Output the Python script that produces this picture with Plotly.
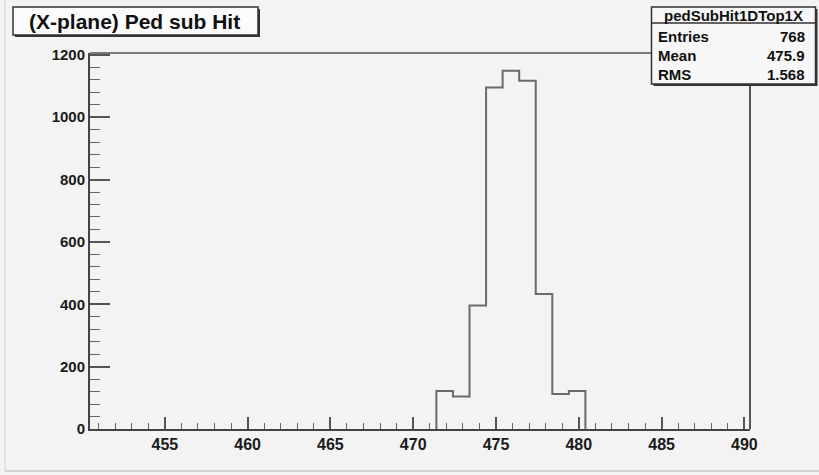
import plotly.graph_objects as go

# ---- data ----
title_text = "(X-plane) Ped sub Hit"
hist_name = "pedSubHit1DTop1X"
stat_labels = ["Entries", "Mean", "RMS"]
stat_values = ["768", "475.9", "1.568"]
bin_low_edge = 471.4
bin_width = 1.0
counts = [122, 104, 396, 1095, 1149, 1117, 433, 112, 122]
x_range = [450.48, 490.34]
y_range = [0, 1206]
x_tick_vals = [455, 460, 465, 470, 475, 480, 485, 490]
y_tick_vals = [0, 200, 400, 600, 800, 1000, 1200]

# step outline from bins
edges = [bin_low_edge + i * bin_width for i in range(len(counts) + 1)]
xs = [edges[0]] + edges
ys = [0] + counts + [0]

W, H = 819, 475
L, R, T, B = 90, 69, 53, 46
PW, PH = W - L - R, H - T - B

def px(x):
    return (x - L) / PW

def py(y):
    return (H - B - y) / PH

bg = "#f3f3f3"
fig = go.Figure()
fig.add_trace(go.Scatter(x=xs, y=ys, mode="lines", line=dict(shape="hv", color="#6a6a6a", width=2),
                         hoverinfo="skip", showlegend=False))

tickfont = dict(family="Liberation Sans, Arial, sans-serif", size=15, color="#1a1a1a", weight="bold")
fig.update_layout(
    width=W, height=H, margin=dict(l=L, r=R, t=T, b=B),
    paper_bgcolor=bg, plot_bgcolor=bg, showlegend=False,
    xaxis=dict(range=x_range, tickvals=x_tick_vals, ticks="inside", ticklen=12, tickwidth=1.5,
               tickcolor="#555", showline=True, linecolor="#444", linewidth=2, showgrid=False,
               zeroline=False, tickfont=dict(tickfont, size=16),
               minor=dict(dtick=1, tick0=450, ticks="inside", ticklen=6, tickwidth=1.2, tickcolor="#666",
                          showgrid=False)),
    yaxis=dict(range=y_range, tickvals=y_tick_vals, ticks="inside", ticklen=20, tickwidth=1.5,
               tickcolor="#555", showline=True, linecolor="#444", linewidth=2, showgrid=False,
               zeroline=False, tickfont=tickfont,
               minor=dict(dtick=40, tick0=0, ticks="inside", ticklen=10, tickwidth=1.2, tickcolor="#666",
                          showgrid=False)),
)

shapes = []
# top and right frame
shapes.append(dict(type="line", xref="paper", yref="paper", x0=0, x1=1, y0=1, y1=1,
                   line=dict(color="#7a7a7a", width=2)))
shapes.append(dict(type="line", xref="paper", yref="paper", x0=1, x1=1, y0=0, y1=1,
                   line=dict(color="#555", width=2)))
# canvas edges
shapes.append(dict(type="line", xref="paper", yref="paper", x0=px(5), x1=px(819), y0=py(471), y1=py(471),
                   line=dict(color="#d2d2d2", width=2)))
shapes.append(dict(type="line", xref="paper", yref="paper", x0=px(5), x1=px(5), y0=py(0), y1=py(471),
                   line=dict(color="#dcdcdc", width=1.5)))

# title box with shadow
shapes.append(dict(type="rect", xref="paper", yref="paper", x0=px(15), x1=px(260), y0=py(37), y1=py(9),
                   fillcolor="#333", line=dict(width=0)))
shapes.append(dict(type="rect", xref="paper", yref="paper", x0=px(13), x1=px(258), y0=py(35), y1=py(7),
                   fillcolor="#fbfbfb", line=dict(color="#333", width=1.5)))
# stats box with shadow
shapes.append(dict(type="rect", xref="paper", yref="paper", x0=px(653.5), x1=px(817.5), y0=py(86), y1=py(9),
                   fillcolor="#333", line=dict(width=0)))
shapes.append(dict(type="rect", xref="paper", yref="paper", x0=px(651.5), x1=px(815.5), y0=py(84), y1=py(7),
                   fillcolor="#f7f7f7", line=dict(color="#333", width=1.5)))
shapes.append(dict(type="line", xref="paper", yref="paper", x0=px(651.5), x1=px(815.5), y0=py(23), y1=py(23),
                   line=dict(color="#333", width=1.5)))
fig.update_layout(shapes=shapes)

font_b = dict(family="Liberation Sans, Arial, sans-serif", color="#111", weight="bold")
ann = []
ann.append(dict(xref="paper", yref="paper", x=px(134), y=py(21), text=title_text, showarrow=False,
                xanchor="center", yanchor="middle", font=dict(font_b, size=21)))
ann.append(dict(xref="paper", yref="paper", x=px(733.5), y=py(15.5), text=hist_name, showarrow=False,
                xanchor="center", yanchor="middle", font=dict(font_b, size=15)))
row_y = [37, 55, 74]
for lab, val, yy in zip(stat_labels, stat_values, row_y):
    ann.append(dict(xref="paper", yref="paper", x=px(656), y=py(yy), text=lab, showarrow=False,
                    xanchor="left", yanchor="middle", font=dict(font_b, size=15)))
    ann.append(dict(xref="paper", yref="paper", x=px(807), y=py(yy), text=val, showarrow=False,
                    xanchor="right", yanchor="middle", font=dict(font_b, size=15)))
fig.update_layout(annotations=ann)

fig.write_html("out.html", config={"displayModeBar": False},
               post_script="document.body.style.margin='0';document.body.style.overflow='hidden';")
